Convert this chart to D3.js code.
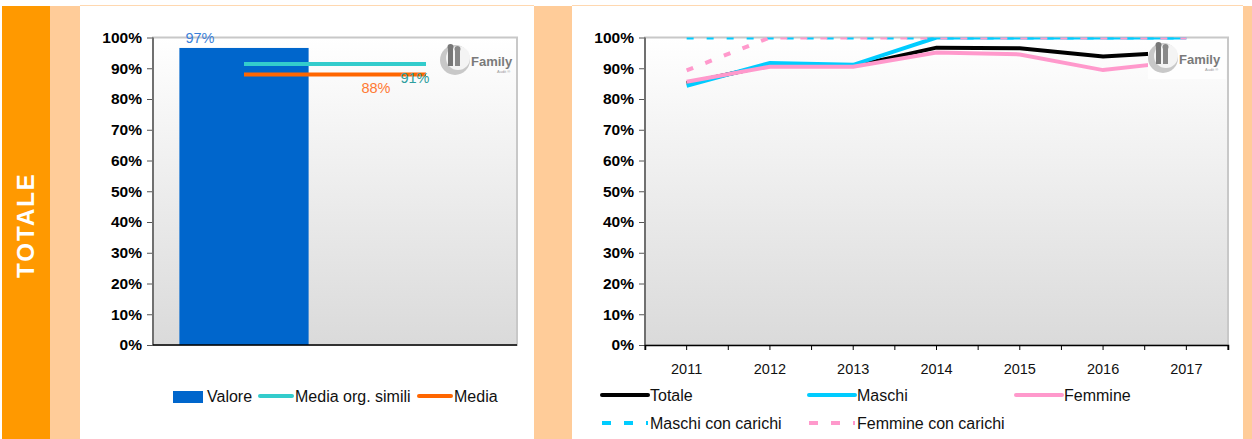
<!DOCTYPE html>
<html>
<head>
<meta charset="utf-8">
<script src="https://cdn.jsdelivr.net/npm/d3@7"></script>
<style>
  body { margin: 0; background: #fff; }
  svg { display: block; font-family: "Liberation Sans", Arial, sans-serif; }
</style>
</head>
<body>
<div id="chart"></div>
<script>
const width = 1252;
const height = 439;

// left chart
const barLabel = ["97%"];
const valore = [0.966];
const mediaSimili = [0.914, 0.914];
const media = [0.88, 0.88];
const lineLabels = ["91%", "88%"];
const leftLegend = ["Valore", "Media org. simili", "Media"];

// right chart
const years = ["2011", "2012", "2013", "2014", "2015", "2016", "2017"];
const totale = [0.851, 0.910, 0.907, 0.967, 0.965, 0.938, 0.954];
const maschi = [0.843, 0.917, 0.911, 1.0, 1.0, 1.0, 1.0];
const femmine = [0.856, 0.905, 0.905, 0.951, 0.945, 0.894, 0.924];
const maschiCarichi = [1.0, 1.0, 1.0, 1.0, 1.0, 1.0, 1.0];
const femmineCarichi = [0.893, 1.0, 1.0, 1.0, 1.0, 1.0, 1.0];
const rightLegend = ["Totale", "Maschi", "Femmine", "Maschi con carichi", "Femmine con carichi"];

const yTicks = d3.range(0, 11).map(d => d / 10);

const svg = d3.select("#chart").append("svg")
  .attr("width", width)
  .attr("height", height);

// background bands
svg.append("rect").attr("x", 2).attr("y", 6).attr("width", 48).attr("height", height - 6).attr("fill", "#FF9900");
svg.append("rect").attr("x", 50).attr("y", 6).attr("width", 30).attr("height", height - 6).attr("fill", "#FFCC99");
svg.append("rect").attr("x", 534).attr("y", 6).attr("width", 38).attr("height", height - 6).attr("fill", "#FFCC99");
svg.append("rect").attr("x", 1243).attr("y", 6).attr("width", 9).attr("height", height - 6).attr("fill", "#FFCC99");
svg.append("line").attr("x1", 80).attr("x2", 534).attr("y1", 5.5).attr("y2", 5.5).attr("stroke", "#FFD8B0");
svg.append("line").attr("x1", 572).attr("x2", 1243).attr("y1", 5.5).attr("y2", 5.5).attr("stroke", "#FFD8B0");

svg.append("text")
  .attr("transform", "translate(34,225) rotate(-90)")
  .attr("text-anchor", "middle")
  .attr("fill", "#fff")
  .attr("font-weight", "bold")
  .attr("font-size", 24)
  .attr("letter-spacing", 2)
  .text("TOTALE");

const defs = svg.append("defs");
const grad = defs.append("linearGradient")
  .attr("id", "plotbg").attr("x1", 0).attr("y1", 0).attr("x2", 0).attr("y2", 1);
grad.append("stop").attr("offset", "0%").attr("stop-color", "#FFFFFF");
grad.append("stop").attr("offset", "100%").attr("stop-color", "#DADADA");

const plotTop = 37.5, plotBottom = 345;
const y = d3.scaleLinear().domain([0, 1]).range([plotBottom, plotTop]);

function plotFrame(x0, x1, clipId) {
  svg.append("rect")
    .attr("x", x0).attr("y", plotTop)
    .attr("width", x1 - x0).attr("height", plotBottom - plotTop)
    .attr("fill", "url(#plotbg)")
    .attr("stroke", "#C8C8C8")
    .attr("stroke-width", 2);
  defs.append("clipPath").attr("id", clipId)
    .append("rect").attr("x", x0).attr("y", plotTop).attr("width", x1 - x0).attr("height", plotBottom - plotTop);
}

function yAxis(x0) {
  const g = svg.append("g")
    .attr("transform", `translate(${x0},0)`)
    .call(d3.axisLeft(y).tickValues(yTicks).tickFormat(d3.format(".0%")).tickSize(6).tickPadding(5));
  g.select(".domain").remove();
  g.selectAll(".tick line").attr("stroke", "#555");
  g.selectAll(".tick text")
    .attr("font-size", 15.5)
    .attr("font-weight", "bold")
    .attr("font-family", "'Liberation Sans', Arial, sans-serif")
    .attr("fill", "#000");
  svg.append("line").attr("x1", x0).attr("x2", x0).attr("y1", plotTop).attr("y2", plotBottom)
    .attr("stroke", "#707070").attr("stroke-width", 2);
}

function logo(cx, cy) {
  const g = svg.append("g").attr("transform", `translate(${cx},${cy})`);
  g.append("circle").attr("r", 15).attr("fill", "#C8C8C8");
  g.append("circle").attr("cx", 3).attr("cy", -2).attr("r", 12).attr("fill", "#F4F4F4");
  g.append("rect").attr("x", -7).attr("y", -11).attr("width", 5).attr("height", 17).attr("fill", "#777");
  g.append("rect").attr("x", 0).attr("y", -9).attr("width", 5).attr("height", 15).attr("fill", "#888");
  g.append("circle").attr("cx", -4.5).attr("cy", -13).attr("r", 3).attr("fill", "#777");
  g.append("circle").attr("cx", 2.5).attr("cy", -11).attr("r", 3).attr("fill", "#888");
  g.append("text").attr("x", 16).attr("y", 6)
    .attr("font-size", 13).attr("fill", "#7A7A7A").attr("font-weight", "bold").text("Family");
  g.append("text").attr("x", 42).attr("y", 13)
    .attr("font-size", 4).attr("fill", "#999").text("Audit ®");
}

// ---- left chart ----
const lx0 = 153, lx1 = 517;
plotFrame(lx0, lx1, "clipL");
const xCat = d3.scalePoint().domain(["a", "b"]).range([lx0, lx1]).padding(0.5);
const barW = xCat.step() * 0.71;

svg.selectAll(".bar").data(valore).enter().append("rect")
  .attr("class", "bar")
  .attr("x", xCat("a") - barW / 2)
  .attr("y", d => y(d))
  .attr("width", barW)
  .attr("height", d => plotBottom - y(d))
  .attr("fill", "#0066CC");

svg.selectAll(".barlabel").data(valore).enter().append("text")
  .attr("x", xCat("a") - 44)
  .attr("y", d => y(d) - 5)
  .attr("text-anchor", "middle")
  .attr("font-size", 14.5)
  .attr("fill", "#3A7FD9")
  .text((d, i) => barLabel[i]);

const lineL = d3.line().x((d, i) => xCat(xCat.domain()[i])).y(d => y(d));
svg.append("path").datum(mediaSimili).attr("d", lineL)
  .attr("fill", "none").attr("stroke", "#33CCCC").attr("stroke-width", 4);
svg.append("path").datum(media).attr("d", lineL)
  .attr("fill", "none").attr("stroke", "#FF6600").attr("stroke-width", 4);

svg.append("text").attr("x", xCat("b") - 11).attr("y", y(mediaSimili[1]) + 19)
  .attr("text-anchor", "middle").attr("font-size", 14.5).attr("fill", "#2E9E9E").text(lineLabels[0]);
svg.append("text").attr("x", xCat("b") - 50).attr("y", y(media[1]) + 19)
  .attr("text-anchor", "middle").attr("font-size", 14.5).attr("fill", "#FF7A33").text(lineLabels[1]);

yAxis(lx0);
svg.append("line").attr("x1", lx0).attr("x2", lx1).attr("y1", plotBottom).attr("y2", plotBottom)
  .attr("stroke", "#000").attr("stroke-width", 1.5);
logo(455, 60);

// left legend
const ll = svg.append("g").attr("font-size", 16).attr("fill", "#111");
ll.append("rect").attr("x", 173).attr("y", 391).attr("width", 30).attr("height", 12).attr("fill", "#0066CC");
ll.append("text").attr("x", 207).attr("y", 402).text(leftLegend[0]);
ll.append("line").attr("x1", 260).attr("x2", 292).attr("y1", 396).attr("y2", 396)
  .attr("stroke", "#33CCCC").attr("stroke-width", 4).attr("stroke-linecap", "round");
ll.append("text").attr("x", 295).attr("y", 402).text(leftLegend[1]);
ll.append("line").attr("x1", 419).attr("x2", 451).attr("y1", 396).attr("y2", 396)
  .attr("stroke", "#FF6600").attr("stroke-width", 4).attr("stroke-linecap", "round");
ll.append("text").attr("x", 454).attr("y", 402).text(leftLegend[2]);

// ---- right chart ----
const rx0 = 645, rx1 = 1228;
plotFrame(rx0, rx1, "clipR");
const xBand = d3.scaleBand().domain(years).range([rx0, rx1]);
const xc = d => xBand(d) + xBand.bandwidth() / 2;

const series = [
  { values: totale, color: "#000000", dash: null },
  { values: maschi, color: "#00CCFF", dash: null },
  { values: femmine, color: "#FF99CC", dash: null },
  { values: maschiCarichi, color: "#00CCFF", dash: "7,13" },
  { values: femmineCarichi, color: "#FF99CC", dash: "7,13" }
];
const lineR = d3.line().x((d, i) => xc(years[i])).y(d => y(d));
svg.append("g").attr("clip-path", "url(#clipR)")
  .selectAll("path").data(series).enter().append("path")
  .attr("d", d => lineR(d.values))
  .attr("fill", "none")
  .attr("stroke", d => d.color)
  .attr("stroke-width", 4)
  .attr("stroke-dasharray", d => d.dash);

yAxis(rx0);
const xg = svg.append("g")
  .attr("transform", `translate(0,${plotBottom})`)
  .call(d3.axisBottom(xBand).tickSize(5).tickPadding(14));
xg.select(".domain").attr("stroke", "#000").attr("stroke-width", 1.5);
xg.selectAll(".tick text").attr("font-size", 14.5).attr("fill", "#111")
  .attr("font-family", "'Liberation Sans', Arial, sans-serif");
xg.selectAll(".edge").data(years.map(d => xBand(d)).concat([rx1])).enter().append("line")
  .attr("x1", d => d).attr("x2", d => d).attr("y1", 0).attr("y2", 5).attr("stroke", "#000");

// white logo box over the lines
svg.append("rect").attr("x", 1148).attr("y", 41).attr("width", 78).attr("height", 38).attr("fill", "#FEFEFE");
logo(1163, 58);

// right legend
const rl = svg.append("g").attr("font-size", 16).attr("fill", "#111");
const legPos = [[602, 395], [809, 395], [1016, 395], [602, 423], [809, 423]];
series.forEach((s, i) => {
  const [lx, ly] = legPos[i];
  rl.append("line").attr("x1", lx).attr("x2", lx + 46).attr("y1", ly).attr("y2", ly)
    .attr("stroke", s.color).attr("stroke-width", 4)
    .attr("stroke-linecap", s.dash ? "butt" : "round")
    .attr("stroke-dasharray", s.dash ? "9,13" : null);
  rl.append("text").attr("x", lx + 48).attr("y", ly + 6).text(rightLegend[i]);
});
</script>
</body>
</html>
